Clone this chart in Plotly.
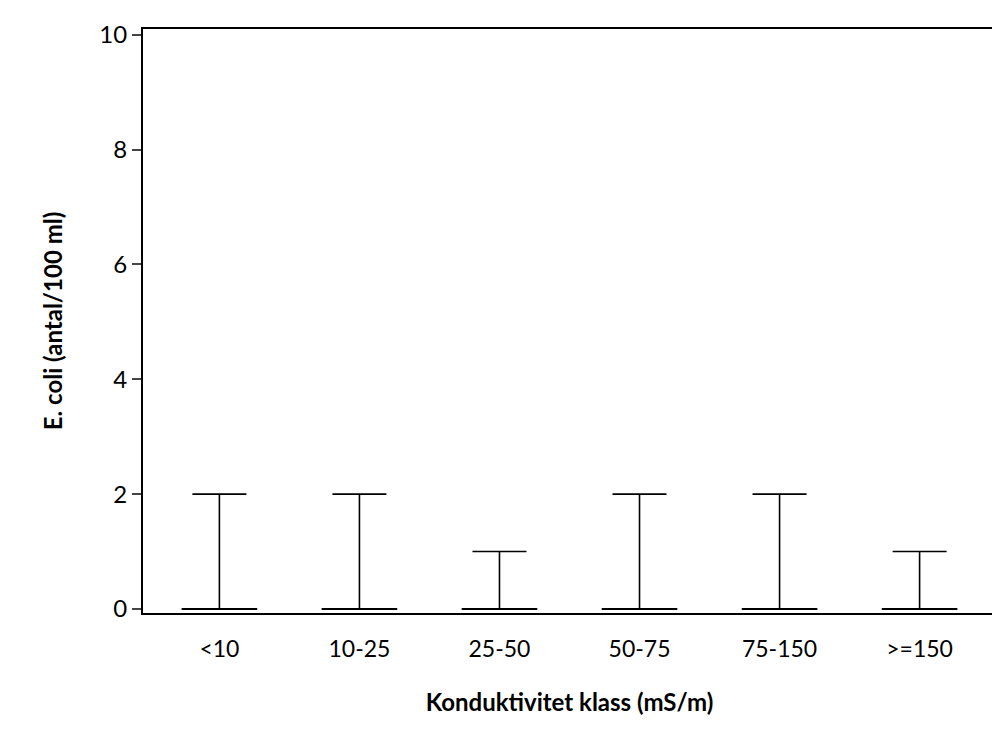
import plotly.graph_objects as go

classes = ["<10", "10-25", "25-50", "50-75", "75-150", ">=150"]
median = [0, 0, 0, 0, 0, 0]
upper = [2, 2, 1, 2, 2, 1]

fig = go.Figure()
fig.add_trace(go.Scatter(
    x=classes, y=median, mode="markers",
    marker=dict(symbol="line-ew", size=54, line=dict(color="black", width=2)),
    error_y=dict(type="data", symmetric=False,
                 array=[u - m for u, m in zip(upper, median)],
                 arrayminus=[0] * len(classes),
                 color="black", thickness=1.6, width=27),
    showlegend=False,
))

fig.update_layout(
    width=1000, height=750,
    margin=dict(l=135, r=10, t=21, b=145),
    plot_bgcolor="white", paper_bgcolor="white",
    font=dict(family="Lato, Open Sans, sans-serif", size=24, color="black"),
)
fig.update_xaxes(
    showline=True, linecolor="black", linewidth=2, mirror=True,
    ticks="", showgrid=False, tickfont=dict(size=23), ticklabelstandoff=14,
    title=dict(text="<b>Konduktivitet klass (mS/m)</b>", font=dict(size=24), standoff=34),
)
fig.update_yaxes(
    range=[-0.07, 10.1], tickvals=[0, 2, 4, 6, 8, 10],
    showline=True, linecolor="black", linewidth=2, mirror=True,
    ticks="outside", ticklen=9, tickwidth=1.5, showgrid=False, zeroline=False,
    tickfont=dict(size=24),
    title=dict(text="<b>E. coli (antal/100 ml)</b>", font=dict(size=24), standoff=30),
)

fig.write_html("out.html")
